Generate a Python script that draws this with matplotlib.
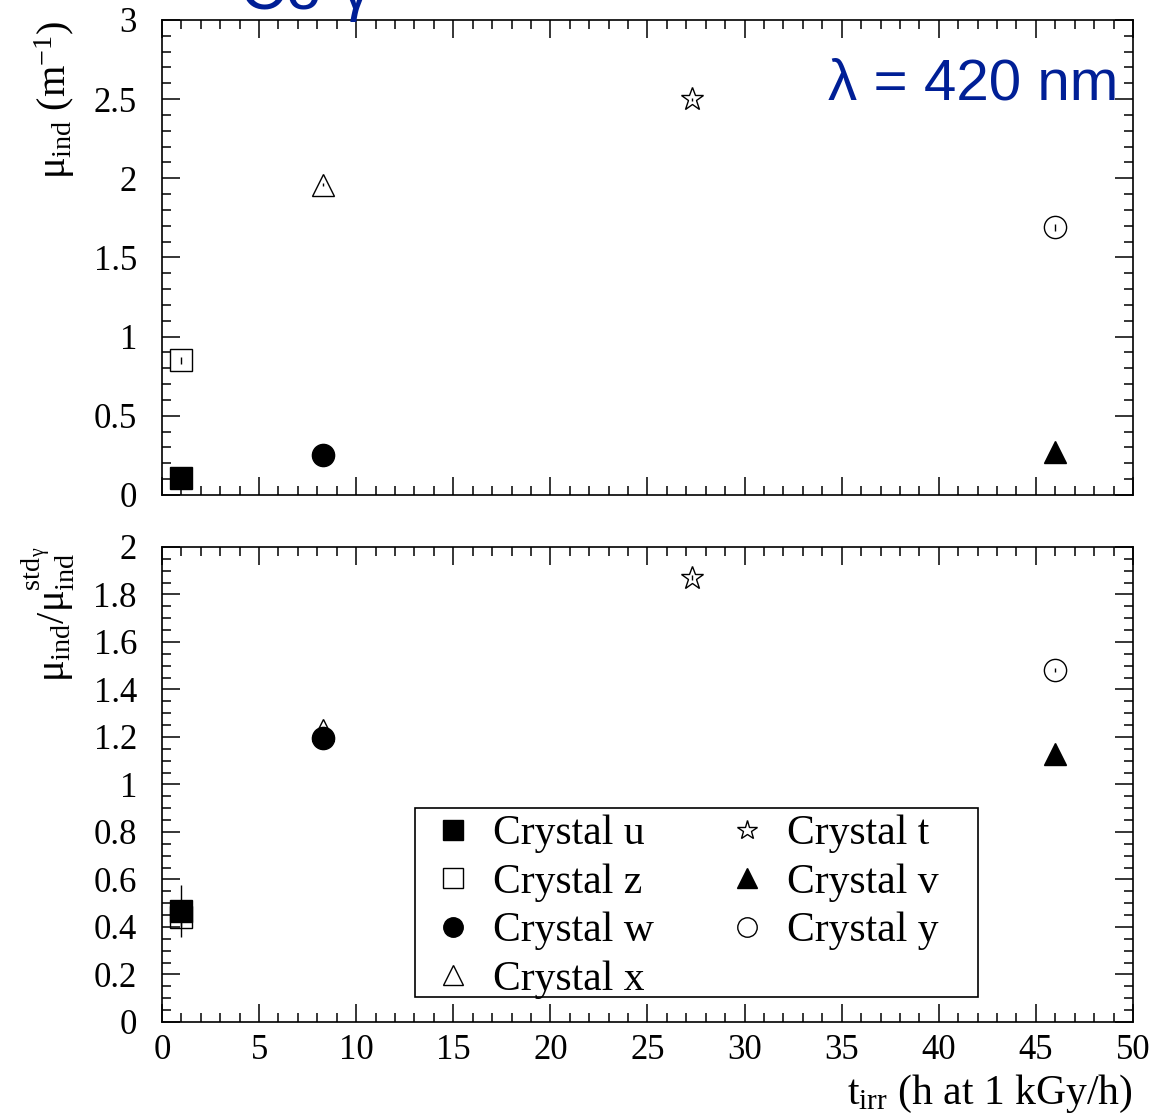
import matplotlib
matplotlib.use('Agg')
import matplotlib.pyplot as plt
from matplotlib.ticker import MultipleLocator
from matplotlib.lines import Line2D
from matplotlib.patches import Rectangle

## fonts
plt.rcParams['font.family'] = ['Liberation Serif', 'DejaVu Serif']
plt.rcParams['mathtext.fontset'] = 'custom'
plt.rcParams['mathtext.rm'] = 'Liberation Serif'
plt.rcParams['mathtext.it'] = 'Liberation Serif:italic'

## data
crystals = ['u', 'z', 'w', 'x', 't', 'v', 'y']
t_irr = [1.0, 1.0, 8.3, 8.3, 27.3, 46.0, 46.0]
# induced absorption at 420 nm (1/m)
mu_ind = [0.11, 0.85, 0.25, 1.96, 2.50, 0.27, 1.69]
mu_err = [0.02, 0.02, 0.02, 0.01, 0.01, 0.02, 0.02]
# ratio to std gamma
ratio = [0.467, 0.44, 1.195, 1.23, 1.87, 1.128, 1.482]
ratio_err = [0.11, 0.04, 0.01, 0.01, 0.01, 0.01, 0.01]

markers = ['s', 's', 'o', '^', '*', '^', 'o']
filled = [True, False, True, False, False, True, False]
msizes = [16, 16, 16, 16, 17, 16, 16]

blue = '#001f96'

fig = plt.figure(figsize=(11.72, 11.13), dpi=100)
ax1 = fig.add_axes([0.1382, 0.5553, 0.8285, 0.4268])
ax2 = fig.add_axes([0.1382, 0.0818, 0.8285, 0.4268])


def draw(ax, yvals, yerr):
    for k in range(len(crystals)):
        fc = 'black' if filled[k] else 'none'
        ax.errorbar(t_irr[k], yvals[k], yerr=yerr[k], fmt=markers[k],
                    ms=msizes[k], mfc=fc, mec='black', mew=1.0,
                    ecolor='black', elinewidth=1.0, capsize=0)


def style(ax, ymax, major, minor):
    ax.set_xlim(0, 50)
    ax.set_ylim(0, ymax)
    ax.xaxis.set_major_locator(MultipleLocator(5))
    ax.xaxis.set_minor_locator(MultipleLocator(1))
    ax.yaxis.set_major_locator(MultipleLocator(major))
    ax.yaxis.set_minor_locator(MultipleLocator(minor))
    ax.tick_params(which='both', direction='in', top=True, right=True,
                   labelsize=25, width=1.1)
    ax.tick_params(which='major', length=13)
    ax.tick_params(which='minor', length=6.5)
    ax.tick_params(axis='y', pad=18)
    ax.tick_params(axis='x', pad=9)
    for s in ax.spines.values():
        s.set_linewidth(1.2)


draw(ax1, mu_ind, mu_err)
draw(ax2, ratio, ratio_err)

style(ax1, 3, 0.5, 0.1)
style(ax2, 2, 0.2, 0.05)
ax1.tick_params(axis='x', labelbottom=False)
ax1.set_yticks([0, 0.5, 1, 1.5, 2, 2.5, 3])
ax1.set_yticklabels(['0', '0.5', '1', '1.5', '2', '2.5', '3'])
ax2.set_yticks([0, 0.2, 0.4, 0.6, 0.8, 1, 1.2, 1.4, 1.6, 1.8, 2])
ax2.set_yticklabels(['0', '0.2', '0.4', '0.6', '0.8', '1', '1.2', '1.4', '1.6', '1.8', '2'])

# axis titles
ax1.set_ylabel('μ$_{\\rm ind}$ (m$^{-1}$)', fontsize=29, loc='top')
ax1.yaxis.set_label_coords(-0.087, 0.998)
ax2.set_ylabel('μ$_{\\rm ind}$/μ$_{\\rm ind}^{\\rm std_{\\gamma}}$', fontsize=29, loc='top')
ax2.yaxis.set_label_coords(-0.087, 1.0)
ax2.set_xlabel('t$_{\\rm irr}$ (h at 1 kGy/h)', fontsize=30, loc='right')
ax2.xaxis.set_label_coords(1.0, -0.108)

# blue annotations
ax1.text(0.985, 0.832, 'λ = 420 nm', transform=ax1.transAxes, ha='right',
         va='baseline', fontsize=42, color=blue, family=['Liberation Sans'])
fig.text(0.165, 0.991, '$^{60}$Co γ', ha='left', va='baseline', fontsize=46,
         color=blue, family=['Liberation Sans'])

# legend box (ROOT style, wider than its content)
ax2.add_patch(Rectangle((0.2606, 0.0526), 0.5794, 0.3979, transform=ax2.transAxes,
                        facecolor='white', edgecolor='black', lw=1.2, zorder=4.9))

# legend, markers only
handles = []
for k in range(len(crystals)):
    fc = 'black' if filled[k] else 'none'
    handles.append(Line2D([], [], ls='none', marker=markers[k], ms=msizes[k] - 2,
                          mfc=fc, mec='black', mew=1.0,
                          label='Crystal ' + crystals[k]))
leg = ax2.legend(handles=handles, ncol=2, loc='upper left',
                 bbox_to_anchor=(0.2781, 0.436), borderaxespad=0, borderpad=0,
                 fontsize=30, frameon=False, handlelength=1.0,
                 handletextpad=0.46, labelspacing=0.24, columnspacing=1.73)
leg.set_zorder(5)

fig.savefig('out.png', dpi=100)
